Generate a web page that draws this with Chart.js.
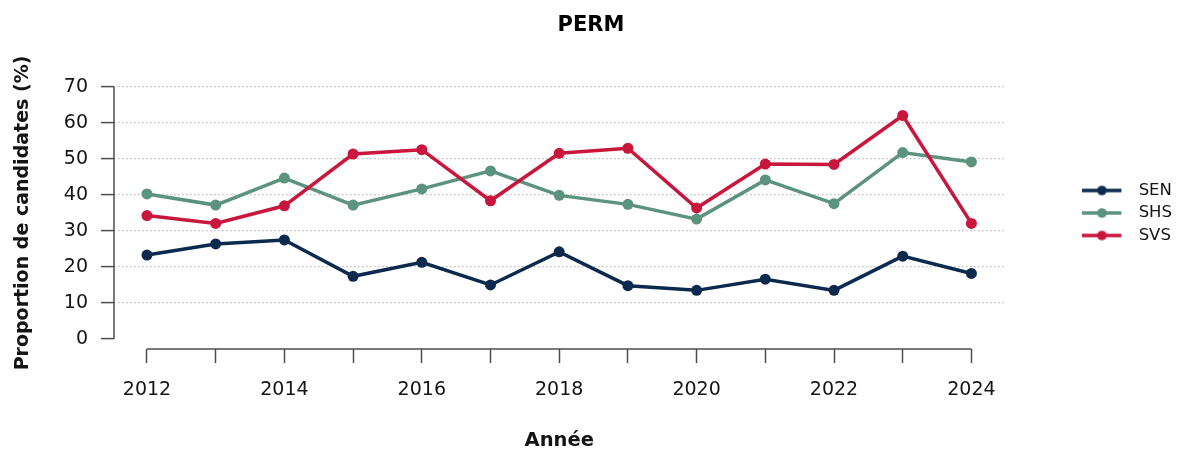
<!DOCTYPE html>
<html>
<head>
<meta charset="utf-8">
<script src="https://cdn.jsdelivr.net/npm/chart.js@4"></script>
<style>
  html, body { margin: 0; padding: 0; background: #fff; }
  #wrap { width: 1188px; height: 453px; }
</style>
</head>
<body>
<div id="wrap"><canvas id="permChart"></canvas></div>
<script>
// données
const years = [2012, 2013, 2014, 2015, 2016, 2017, 2018, 2019, 2020, 2021, 2022, 2023, 2024];
const sen = [23.3, 26.4, 27.5, 17.4, 21.3, 15.0, 24.2, 14.8, 13.5, 16.6, 13.5, 23.0, 18.2];
const shs = [40.3, 37.2, 44.7, 37.2, 41.7, 46.7, 39.9, 37.4, 33.3, 44.2, 37.6, 51.8, 49.2];
const svs = [34.3, 32.1, 37.0, 51.4, 52.6, 38.4, 51.6, 53.0, 36.4, 48.6, 48.5, 62.1, 32.1];
const yTicks = [0, 10, 20, 30, 40, 50, 60, 70];
const seriesNames = ['SEN', 'SHS', 'SVS'];
const seriesColors = ['#0c2a4d', '#5b937e', '#c8163c'];

const FONT = '"DejaVu Sans"';
const AXIS_COLOR = '#4d4d4d';
const TEXT_COLOR = '#141414';

function toPoints(values) {
    return values.map(function(v, i) { return { x: years[i], y: v }; });
}

// petite image ligne + point pour la légende
function legendMarker(color) {
    const c = document.createElement('canvas');
    c.width = 48;
    c.height = 12;
    const g = c.getContext('2d');
    g.strokeStyle = color;
    g.lineWidth = 3.5;
    g.beginPath();
    g.moveTo(0, 6);
    g.lineTo(39, 6);
    g.stroke();
    g.fillStyle = color;
    g.beginPath();
    g.arc(19.5, 6, 4.8, 0, Math.PI * 2);
    g.fill();
    return c;
}

// axes façon R : lignes limitées à la plage des graduations
const rAxes = {
    id: 'rAxes',
    afterDraw: function(chart) {
        const ctx = chart.ctx;
        const xs = chart.scales.x;
        const ys = chart.scales.y;
        const area = chart.chartArea;
        ctx.save();
        ctx.strokeStyle = AXIS_COLOR;
        ctx.lineWidth = 1.5;
        ctx.beginPath();
        ctx.moveTo(area.left, ys.getPixelForValue(yTicks[0]));
        ctx.lineTo(area.left, ys.getPixelForValue(yTicks[yTicks.length - 1]));
        ctx.moveTo(xs.getPixelForValue(years[0]), area.bottom);
        ctx.lineTo(xs.getPixelForValue(years[years.length - 1]), area.bottom);
        ctx.stroke();
        ctx.restore();
    }
};

const xPad = (years[years.length - 1] - years[0]) * 0.04;
const yPad = (yTicks[yTicks.length - 1] - yTicks[0]) * 0.04;

const datasets = [sen, shs, svs].map(function(values, i) {
    return {
        label: seriesNames[i],
        data: toPoints(values),
        borderColor: seriesColors[i],
        backgroundColor: seriesColors[i],
        borderWidth: 3.5,
        pointRadius: 5.5,
        pointHoverRadius: 5.5,
        pointBorderWidth: 0,
        tension: 0,
        order: 2 - i
    };
});

const ctx = document.getElementById('permChart').getContext('2d');
new Chart(ctx, {
    type: 'line',
    data: { datasets: datasets },
    options: {
        responsive: true,
        maintainAspectRatio: false,
        animation: false,
        layout: { padding: { left: 0, right: 6, top: 0, bottom: 0 } },
        plugins: {
            title: {
                display: true,
                text: 'PERM',
                color: '#000',
                font: { family: FONT, size: 21, weight: 'bold' },
                padding: { top: 13, bottom: 38.8 }
            },
            legend: {
                display: true,
                position: 'right',
                align: 'center',
                fullSize: false,
                labels: {
                    usePointStyle: true,
                    pointStyleWidth: 48,
                    padding: 6,
                    color: TEXT_COLOR,
                    font: { family: FONT, size: 16.5 },
                    generateLabels: function(chart) {
                        return chart.data.datasets.map(function(ds, i) {
                            return {
                                text: ds.label,
                                fillStyle: ds.borderColor,
                                strokeStyle: ds.borderColor,
                                fontColor: TEXT_COLOR,
                                lineWidth: 0,
                                pointStyle: legendMarker(ds.borderColor),
                                datasetIndex: i,
                                hidden: false
                            };
                        });
                    }
                }
            },
            tooltip: { enabled: false }
        },
        scales: {
            x: {
                type: 'linear',
                min: years[0] - xPad,
                max: years[years.length - 1] + xPad,
                afterBuildTicks: function(scale) {
                    scale.ticks = years.map(function(v) { return { value: v }; });
                },
                afterFit: function(scale) { scale.height = 104; },
                ticks: {
                    autoSkip: false,
                    maxRotation: 0,
                    padding: 16,
                    color: TEXT_COLOR,
                    font: { family: FONT, size: 19 },
                    callback: function(value) {
                        return years.indexOf(value) % 2 === 0 ? String(value) : '';
                    }
                },
                grid: {
                    drawOnChartArea: false,
                    drawTicks: true,
                    tickLength: 14,
                    tickColor: AXIS_COLOR,
                    tickWidth: 1.5
                },
                border: { display: false },
                title: {
                    display: true,
                    text: 'Année',
                    color: TEXT_COLOR,
                    font: { family: FONT, size: 19.5, weight: 'bold' },
                    padding: { top: 0, bottom: 0 }
                }
            },
            y: {
                type: 'linear',
                min: yTicks[0] - yPad,
                max: yTicks[yTicks.length - 1] + yPad,
                afterBuildTicks: function(scale) {
                    scale.ticks = yTicks.map(function(v) { return { value: v }; });
                },
                afterFit: function(scale) { scale.width = 114; },
                ticks: {
                    padding: 13,
                    color: TEXT_COLOR,
                    font: { family: FONT, size: 19 },
                    callback: function(value) { return String(value); }
                },
                grid: {
                    drawTicks: true,
                    tickLength: 13,
                    tickColor: AXIS_COLOR,
                    tickWidth: 1.5,
                    lineWidth: 1.2,
                    color: function(c) {
                        return c.tick && c.tick.value === 0 ? 'rgba(0,0,0,0)' : '#bcbcbc';
                    }
                },
                border: { display: false, dash: [1.5, 2.5] },
                title: {
                    display: true,
                    text: 'Proportion de candidates (%)',
                    color: TEXT_COLOR,
                    font: { family: FONT, size: 19, weight: 'bold' },
                    padding: { top: 12, bottom: 0 }
                }
            },
            gap: {
                type: 'linear',
                position: 'right',
                display: true,
                afterFit: function(scale) { scale.width = 72; },
                ticks: { display: false },
                grid: { display: false, drawTicks: false },
                border: { display: false }
            }
        }
    },
    plugins: [rAxes]
});
</script>
</body>
</html>
